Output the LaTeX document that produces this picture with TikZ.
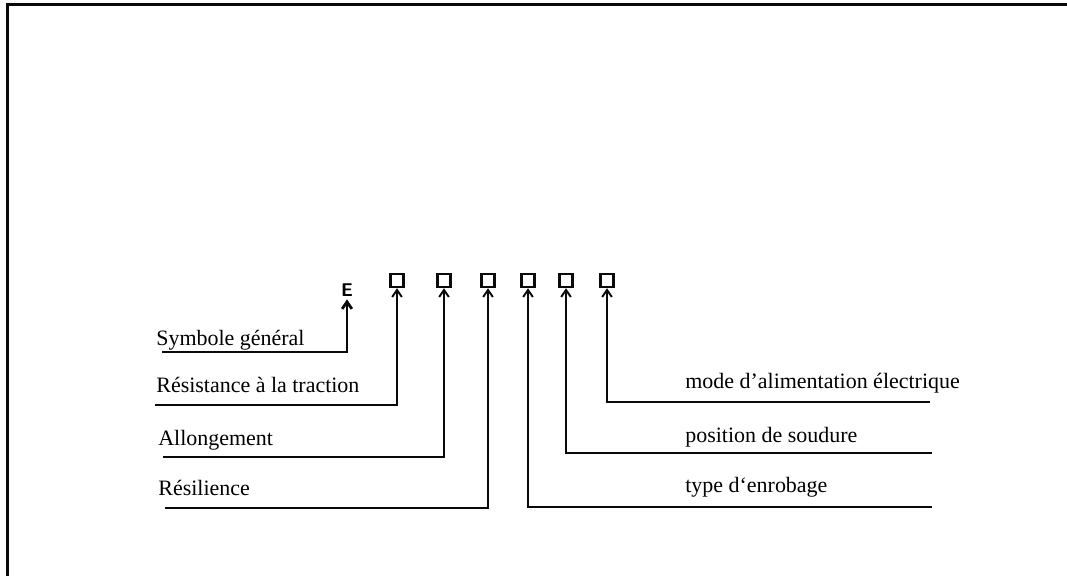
\documentclass[tikz,border=0pt]{standalone}
\usepackage{fontspec}
\setmainfont{Liberation Serif}
\definecolor{traitnoir}{RGB}{10,10,10}
\usetikzlibrary{arrows.meta,positioning}

\tikzset{
  case/.style={draw=traitnoir,line width=1.4pt,minimum size=7.4pt,inner sep=0pt},
  fleche/.style={-{Straight Barb[length=4pt,width=5.5pt]},draw=traitnoir,line width=1.1pt},
  etiquette/.style={anchor=base west,inner sep=0pt,font=\fontsize{12.5}{14}\selectfont}
}

\begin{document}
\begin{tikzpicture}[x=0.02cm,y=-0.02cm]

        % Cadre (haut et gauche seulement)
        \useasboundingbox (0,0) rectangle (1067,576);
        \draw[traitnoir,line width=1.4pt] (1067,4.5) -- (7.5,4.5) -- (7.5,576);

        % Symbole E et cases
        \node[font=\sffamily\bfseries\fontsize{10.5}{12}\selectfont,inner sep=1.5pt] (E) at (347,290) {E};
        \foreach \i/\px in {1/397, 2/444, 3/488, 4/528, 5/566, 6/607}{
            \node[case] (c\i) at (\px,280.5) {};
        }

        % Extremites libres des traits de rappel
        \coordinate (gS) at (162,352);
        \coordinate (gR) at (155,405);
        \coordinate (gA) at (163,457);
        \coordinate (gL) at (165,508);
        \coordinate (dT) at (932,507);
        \coordinate (dP) at (932,453);
        \coordinate (dM) at (930,402);

        % Traits de rappel vers la gauche
        \draw[fleche,line width=1.6pt] (gS) -| (E.south);
        \draw[fleche] (gR) -| (c1.south);
        \draw[fleche] (gA) -| (c2.south);
        \draw[fleche] (gL) -| (c3.south);

        % Traits de rappel vers la droite
        \draw[fleche] (dT) -| (c4.south);
        \draw[fleche] (dP) -| (c5.south);
        \draw[fleche] (dM) -| (c6.south);

        % Libelles
        \node[etiquette] (lS) at (156,345) {Symbole général};
        \node[etiquette] (lR) at (156,392) {Résistance à la traction};
        \node[etiquette] (lA) at (158,445) {Allongement};
        \node[etiquette] (lL) at (158,495) {Résilience};
        \node[etiquette] (lM) at (685,388) {mode d’alimentation électrique};
        \node[etiquette] (lP) at (685,442) {position de soudure};
        \node[etiquette] (lT) at (685,492) {type d`enrobage};

    \end{tikzpicture}
\end{document}
